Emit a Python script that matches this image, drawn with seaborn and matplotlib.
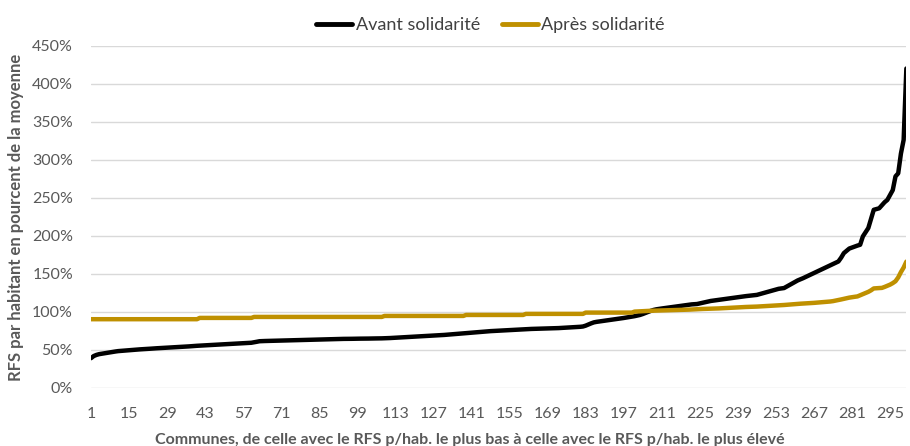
import matplotlib
matplotlib.use("Agg")
import matplotlib.pyplot as plt
import seaborn as sns
import pandas as pd

# ---- data ----
avant = [
    38.7, 41.5, 43.0, 44.0, 44.6, 45.2, 45.8, 46.4, 47.0, 47.5,
    48.0, 48.3, 48.6, 48.9, 49.2, 49.5, 49.8, 50.1, 50.3, 50.5,
    50.8, 51.0, 51.2, 51.5, 51.7, 51.9, 52.1, 52.3, 52.5, 52.7,
    52.9, 53.1, 53.3, 53.5, 53.7, 53.9, 54.2, 54.5, 54.8, 55.0,
    55.2, 55.4, 55.6, 55.8, 56.0, 56.2, 56.4, 56.6, 56.8, 57.0,
    57.2, 57.4, 57.6, 57.8, 58.0, 58.2, 58.4, 58.6, 58.8, 59.0,
    59.6, 60.3, 61.0, 61.2, 61.3, 61.4, 61.5, 61.6, 61.7, 61.8,
    61.9, 62.0, 62.1, 62.2, 62.3, 62.4, 62.5, 62.6, 62.7, 62.8,
    62.9, 63.0, 63.1, 63.2, 63.3, 63.4, 63.5, 63.6, 63.7, 63.8,
    63.9, 64.0, 64.0, 64.1, 64.1, 64.2, 64.2, 64.3, 64.3, 64.4,
    64.4, 64.5, 64.5, 64.6, 64.6, 64.7, 64.7, 64.8, 64.9, 65.0,
    65.2, 65.4, 65.6, 65.8, 66.0, 66.2, 66.4, 66.6, 66.8, 67.0,
    67.2, 67.4, 67.6, 67.8, 68.0, 68.2, 68.4, 68.6, 68.8, 69.0,
    69.3, 69.6, 69.9, 70.2, 70.5, 70.8, 71.0, 71.3, 71.6, 71.9,
    72.2, 72.5, 72.8, 73.1, 73.4, 73.7, 74.0, 74.3, 74.5, 74.7,
    74.9, 75.1, 75.3, 75.5, 75.7, 75.9, 76.1, 76.3, 76.6, 76.8,
    77.0, 77.1, 77.2, 77.3, 77.4, 77.5, 77.6, 77.7, 77.8, 77.9,
    78.0, 78.1, 78.3, 78.5, 78.7, 78.9, 79.1, 79.3, 79.5, 79.7,
    80.0, 80.4, 81.5, 83.0, 84.5, 85.8, 86.5, 87.0, 87.5, 88.0,
    88.5, 89.0, 89.5, 90.0, 90.5, 91.0, 91.6, 92.2, 92.8, 93.4,
    94.0, 94.8, 95.6, 96.8, 98.2, 99.6, 101.0, 102.2, 103.0, 103.6,
    104.1, 104.6, 105.1, 105.6, 106.1, 106.6, 107.1, 107.6, 108.1, 108.6,
    109.1, 109.5, 109.8, 110.0, 110.8, 111.6, 112.4, 113.2, 114.0, 114.5,
    115.0, 115.5, 116.0, 116.5, 117.0, 117.5, 118.0, 118.5, 119.0, 119.5,
    120.0, 120.4, 120.8, 121.2, 121.6, 122.0, 123.0, 124.0, 125.0, 126.0,
    127.0, 128.0, 129.0, 130.0, 130.5, 131.0, 133.0, 135.0, 137.0, 139.0,
    141.0, 142.5, 144.0, 145.7, 147.4, 149.1, 150.8, 152.5, 154.2, 156.0,
    157.7, 159.4, 161.1, 162.8, 164.5, 166.0, 171.0, 177.0, 180.0, 183.0,
    184.3, 185.6, 186.9, 188.0, 199.0, 204.5, 210.0, 222.0, 234.0, 235.0,
    236.0, 240.0, 244.0, 247.0, 253.5, 260.0, 278.0, 282.0, 308.0, 326.0,
    420.0,
]

apres = [
    90.0, 90.0, 90.0, 90.0, 90.0, 90.0, 90.0, 90.0, 90.0, 90.0,
    90.0, 90.0, 90.0, 90.0, 90.0, 90.0, 90.0, 90.0, 90.0, 90.0,
    90.0, 90.0, 90.0, 90.0, 90.0, 90.0, 90.0, 90.0, 90.0, 90.0,
    90.0, 90.0, 90.0, 90.0, 90.0, 90.0, 90.0, 90.0, 90.0, 90.0,
    91.7, 91.7, 91.7, 91.7, 91.7, 91.7, 91.7, 91.7, 91.7, 91.7,
    91.7, 91.7, 91.7, 91.7, 91.7, 91.7, 91.7, 91.7, 91.7, 91.7,
    93.0, 93.0, 93.0, 93.0, 93.0, 93.0, 93.0, 93.0, 93.0, 93.0,
    93.0, 93.0, 93.0, 93.0, 93.0, 93.0, 93.0, 93.0, 93.0, 93.0,
    93.0, 93.0, 93.0, 93.0, 93.0, 93.0, 93.0, 93.0, 93.0, 93.0,
    93.0, 93.0, 93.0, 93.0, 93.0, 93.0, 93.0, 93.0, 93.0, 93.0,
    93.0, 93.0, 93.0, 93.0, 93.0, 93.0, 93.0, 93.0, 94.3, 94.3,
    94.3, 94.3, 94.3, 94.3, 94.3, 94.3, 94.3, 94.3, 94.3, 94.3,
    94.3, 94.3, 94.3, 94.3, 94.3, 94.3, 94.3, 94.3, 94.3, 94.3,
    94.3, 94.3, 94.3, 94.3, 94.3, 94.3, 94.3, 94.3, 95.6, 95.6,
    95.6, 95.6, 95.6, 95.6, 95.6, 95.6, 95.6, 95.6, 95.6, 95.6,
    95.6, 95.6, 95.6, 95.6, 95.6, 95.6, 95.6, 95.6, 95.6, 95.6,
    97.0, 97.0, 97.0, 97.0, 97.0, 97.0, 97.0, 97.0, 97.0, 97.0,
    97.0, 97.0, 97.0, 97.0, 97.0, 97.0, 97.0, 97.0, 97.0, 97.0,
    97.0, 97.0, 98.7, 98.7, 98.7, 98.7, 98.7, 98.7, 98.7, 98.7,
    98.7, 98.7, 98.7, 98.7, 98.7, 98.7, 98.7, 98.7, 98.7, 98.7,
    100.0, 100.2, 100.4, 100.6, 100.8, 101.0, 101.1, 101.2, 101.3, 101.4,
    101.5, 101.6, 101.7, 101.8, 101.9, 102.0, 102.1, 102.2, 102.3, 102.4,
    102.6, 102.8, 103.0, 103.2, 103.4, 103.5, 103.6, 103.7, 103.8, 103.9,
    104.0, 104.2, 104.4, 104.6, 104.8, 105.0, 105.2, 105.4, 105.6, 105.8,
    106.0, 106.1, 106.2, 106.3, 106.5, 106.6, 106.8, 107.0, 107.2, 107.4,
    107.6, 107.8, 108.0, 108.2, 108.4, 108.7, 109.0, 109.3, 109.6, 109.9,
    110.2, 110.4, 110.6, 110.8, 111.0, 111.2, 111.5, 111.8, 112.1, 112.4,
    112.7, 113.0, 113.3, 113.8, 114.5, 115.2, 116.0, 116.8, 117.6, 118.4,
    119.0, 119.5, 120.0, 121.5, 123.0, 124.5, 126.0, 128.0, 130.5, 130.8,
    131.0, 131.2, 132.5, 134.0, 135.5, 137.5, 140.0, 145.0, 152.0, 158.0,
    165.8,
]

communes = list(range(1, len(avant) + 1))
series_names = ["Avant solidarité", "Après solidarité"]
x_ticks = list(range(1, 296, 14))
y_ticks = list(range(0, 451, 50))
y_tick_labels = [f"{v}%" for v in y_ticks]

df = pd.DataFrame({
    "commune": communes * 2,
    "valeur": avant + apres,
    "serie": [series_names[0]] * len(avant) + [series_names[1]] * len(apres),
})

# ---- style ----
sns.set_theme(style="white")
plt.rcParams["font.family"] = ["Lato", "DejaVu Sans"]

W, H = 910, 446
fig = plt.figure(figsize=(W / 100, H / 100), dpi=100)
ax = fig.add_axes([0.1, 0.131, 0.896, 0.7665])

palette = {series_names[0]: "#000000", series_names[1]: "#BF9000"}
sns.lineplot(data=df, x="commune", y="valeur", hue="serie", palette=palette,
             linewidth=3.2, ax=ax, legend=True)

ax.set_xlim(1, len(avant))
ax.set_ylim(0, 450)
ax.set_yticks(y_ticks)
ax.set_yticklabels(y_tick_labels)
ax.set_xticks(x_ticks)
ax.set_xticklabels([str(t) for t in x_ticks])

ax.grid(axis="y", color="#d9d9d9", linewidth=1.0)
ax.grid(axis="x", visible=False)
ax.set_axisbelow(True)
for s in ax.spines.values():
    s.set_visible(False)

ax.tick_params(axis="both", length=0, labelsize=11.5, labelcolor="#595959")
ax.tick_params(axis="x", pad=14)
ax.tick_params(axis="y", pad=13)

ax.set_xlabel("")
ax.set_ylabel("")
fig.text(470 / W, 1 - 440 / H,
         "Communes, de celle avec le RFS p/hab. le plus bas à celle avec le RFS p/hab. le plus élevé",
         fontsize=11.5, fontweight="bold", color="#595959", ha="center", va="center")
fig.text(16 / W, 1 - 217 / H, "RFS par habitant en pourcent de la moyenne",
         fontsize=12, fontweight="bold", color="#595959", ha="center", va="center",
         rotation=90)

handles, labels = ax.get_legend_handles_labels()
leg = ax.legend(handles, labels, loc="center", bbox_to_anchor=(0.49, 1.06), ncol=2,
                frameon=False, fontsize=13, handlelength=2.0, handletextpad=0.2,
                columnspacing=1.2)
for t in leg.get_texts():
    t.set_color("#404040")
for h in leg.legend_handles:
    h.set_linewidth(3.5)

fig.savefig("out.png", dpi=100)
